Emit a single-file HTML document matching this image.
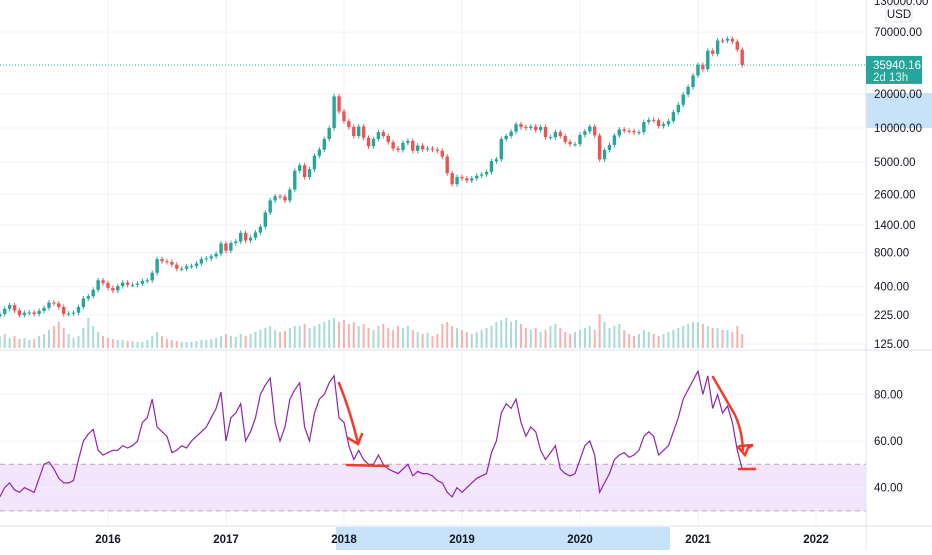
<!DOCTYPE html>
<html><head><meta charset="utf-8"><style>
body{margin:0;background:#fff;font-family:"Liberation Sans",sans-serif;}
svg text{font-family:"Liberation Sans",sans-serif;font-size:11.5px;fill:#131722;}
</style></head><body>
<svg id="c" width="932" height="550" xmlns="http://www.w3.org/2000/svg"></svg>
<script>
const closes=[230,255,275,247,225,236,237,230,245,260,290,285,265,230,232,236,265,315,330,375,455,430,
390,370,405,435,415,415,425,450,455,530,700,670,660,625,575,575,605,608,640,700,710,740,780,960,
830,970,1000,1190,1020,1080,1200,1350,1800,2300,2500,2480,2300,2870,4200,4700,3700,4340,5700,6450,8000,10000,19000,14000,
11500,10200,8500,10300,8200,6900,8000,9200,8500,7500,6600,6400,7400,7700,6300,7000,6500,6600,6450,6300,5600,4000,3200,3700,
3600,3450,3600,3800,3900,4100,5100,5300,8000,8500,9300,10800,10200,10000,10300,9600,10200,8300,8300,9200,8500,7550,7200,7200,
8700,9350,10300,8600,5300,6400,7100,8600,9700,9450,9400,9140,9200,11300,11800,11700,10400,10800,11500,13800,16000,19700,23000,29000,
36000,33000,48000,45000,59000,58800,61000,57700,49000,35940.16];
const volumes=[12,14,10,12,9,10,8,9,12,14,18,22,26,20,14,10,12,20,30,22,16,12,
10,9,8,8,7,7,6,6,8,12,16,12,9,8,7,6,6,6,7,8,8,9,10,12,
14,12,11,14,12,14,16,18,20,22,18,16,17,20,22,22,24,20,22,24,26,28,30,26,
28,24,26,22,24,20,18,22,24,20,18,22,20,22,18,16,14,15,12,14,24,26,22,20,
18,16,14,16,18,20,22,26,28,30,26,28,24,20,18,20,16,18,22,24,20,16,14,16,
18,20,22,18,34,26,20,22,24,18,14,12,14,18,16,14,12,14,16,18,20,22,24,26,
26,24,22,20,20,18,18,16,22,14];
const rsi=[36,40,42,39,38,40,39,38,44,50,51,48,44,42,42,43,52,60,63,65,56,54,
55,56,56,58,57,58,60,68,70,78,66,64,62,55,56,58,57,60,62,64,66,70,74,81,
60,70,72,76,60,64,70,80,84,87,68,60,66,78,82,85,66,60,72,78,80,85,88,70,
68,58,52,56,52,50,50,54,50,48,47,46,48,50,45,47,46,46,45,43,42,38,36,40,
38,40,42,44,45,46,55,60,72,76,74,78,68,62,66,64,56,52,55,58,48,46,45,46,
52,58,60,54,38,42,46,52,54,55,53,54,56,62,64,62,54,56,58,64,70,78,82,86,
90,80,88,74,80,72,75,68,56,48];
const years=['2016','2017','2018','2019','2020','2021','2022'];
const priceTicks=[70000,20000,10000,5000,2600,1400,800,400,225,125];
const rsiTicks=[80,60,40];
const t0=2015.083, step=1/24;

const S='http://www.w3.org/2000/svg', svg=document.getElementById('c');
function el(t,a,txt){const e=document.createElementNS(S,t);for(const k in a)e.setAttribute(k,a[k]);if(txt!=null)e.textContent=txt;svg.appendChild(e);return e;}
const xT=t=>108+(t-2016)*118;
const yP=p=>128-(Math.log10(p)-4)*113.5;
const yR=v=>441-(v-60)*2.33;
const yV=v=>348-v;

let e=el('rect',{x:866,y:93,width:66,height:35,fill:'#c8e2fa'});

e=el('rect',{x:336,y:527,width:334,height:23,fill:'#c8e2fa'});

years.forEach((y,i)=>{const x=xT(2016+i);
 e=el('line',{x1:x,x2:x,y1:0,y2:526,stroke:'#f0f3fa'});
 e=el('text',{x:x,y:543,'text-anchor':'middle','font-weight':'bold'},y);});
priceTicks.forEach(p=>{const y=yP(p);
 e=el('line',{x1:0,x2:866,y1:y,y2:y,stroke:'#f0f3fa'});
 e=el('text',{x:874,y:y+4},p.toFixed(2));});
e=el('text',{x:874,y:5},'130000.00');
e=el('rect',{x:886,y:6,width:26,height:16,rx:3,fill:'#fff',stroke:'#e0e3eb'});
e=el('text',{x:899,y:18,'text-anchor':'middle'},'USD');
e=el('rect',{x:0,y:yR(50),width:866,height:yR(30)-yR(50),fill:'#f3e6fc'});
[50,30].forEach(v=>{e=el('line',{x1:0,x2:866,y1:yR(v),y2:yR(v),stroke:'#b7a9c6','stroke-dasharray':'5,4'});});
rsiTicks.forEach(v=>{const y=yR(v);
 e=el('line',{x1:0,x2:866,y1:y,y2:y,stroke:'#f0f3fa'});
 e=el('text',{x:874,y:y+4},v.toFixed(2));});
e=el('line',{x1:0,x2:932,y1:350,y2:350,stroke:'#e0e3eb'});
e=el('line',{x1:0,x2:932,y1:526,y2:526,stroke:'#e0e3eb'});
e=el('line',{x1:866,x2:866,y1:0,y2:550,stroke:'#e0e3eb'});
closes.forEach((c,i)=>{const o=i?closes[i-1]:c*0.95;const x=xT(t0+i*step);const up=c>=o;
 const col=up?'#26a69a':'#ef5350';
 e=el('rect',{x:x-1,y:yV(volumes[i]),width:2,height:volumes[i],fill:up?'#a8dbd6':'#f7b2b0'});
 
 const hi=Math.max(o,c)*1.05,lo=Math.min(o,c)*0.95;
 e=el('line',{x1:x,x2:x,y1:yP(hi),y2:yP(lo),stroke:col});
 
 const y1=yP(Math.max(o,c)),y2=yP(Math.min(o,c));
 e=el('rect',{x:x-1.7,y:y1,width:3.4,height:Math.max(1,y2-y1),fill:col});
 });
const pts=rsi.map((v,i)=>xT(t0+i*step).toFixed(1)+','+yR(v).toFixed(1)).join(' ');
e=el('polyline',{points:pts,fill:'none',stroke:'#8e24aa','stroke-width':1.2});

const last=closes[closes.length-1], yl=yP(last);
e=el('line',{x1:0,x2:866,y1:yl,y2:yl,stroke:'#26a69a','stroke-dasharray':'1,2'});
e=el('rect',{x:866,y:yl-9,width:56,height:28,fill:'#26a69a'});
e=el('text',{x:873,y:yl+4,style:'fill:#fff'},last.toFixed(2));
e=el('text',{x:873,y:yl+16,style:'fill:#e0f2f1'},'2d 13h');
const red={fill:'none',stroke:'#f23b2b','stroke-width':2.5,'stroke-linecap':'round'};
[['M339,383 Q350,410 358,443','arrow-2018'],['M348,438 L358,444 L362,434','arrowhead-2018'],['M347,465 L388,466','support-line-2018'],
 ['M713,377 L735,415 Q742,430 743,450','arrow-2021'],['M738,447 L745,455 L748,448 L753,445 L740,446','arrowhead-2021'],['M739,469 L755,469','support-line-2021']]
.forEach(([d,n])=>{e=el('path',Object.assign({d:d},red));});
</script>
</body></html>
